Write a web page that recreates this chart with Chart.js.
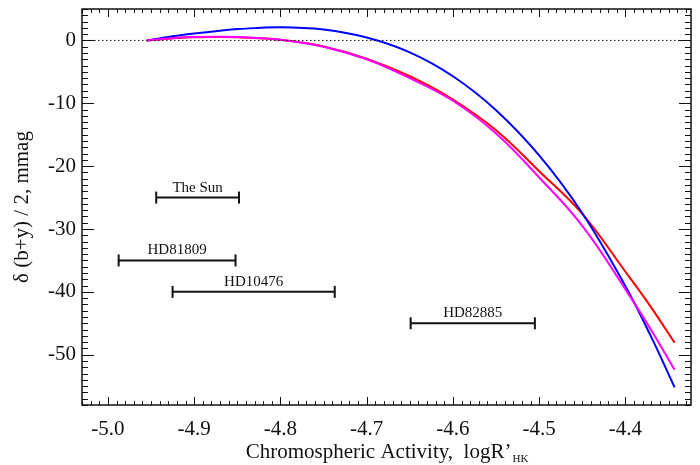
<!DOCTYPE html>
<html>
<head>
<meta charset="utf-8">
<script src="https://cdn.jsdelivr.net/npm/chart.js@4.4.1/dist/chart.umd.min.js"></script>
<style>
  html, body { margin: 0; padding: 0; background: #fff; }
</style>
</head>
<body>
<canvas id="chart" width="700" height="465"></canvas>
<script>
// model curves, sampled along logR'HK
const activity = [-4.955, -4.92, -4.90, -4.87, -4.85, -4.80, -4.75, -4.70, -4.65, -4.60, -4.55, -4.50, -4.45, -4.40, -4.37, -4.343]
const blueCurve = [0, 0.74, 1.1, 1.55, 1.8, 2.1, 1.73, 0.46, -1.9, -5.7, -11.1, -18.3, -27.5, -39.1, -47.2, -55.2]
const redCurve = [0, 0.38, 0.5, 0.55, 0.5, 0.1, -0.95, -2.9, -5.7, -9.4, -14.3, -20.8, -27.6, -36.8, -42.5, -48.1]
const magentaCurve = [0, 0.42, 0.55, 0.6, 0.55, 0.1, -1.0, -3.0, -6.0, -9.6, -14.8, -21.8, -29.5, -39.6, -46.1, -52.4]

// activity ranges of the stars
const starNames = ["The Sun", "HD81809", "HD10476", "HD82885"]
const starLow = [-4.944, -4.9875, -4.925, -4.649]
const starHigh = [-4.848, -4.852, -4.737, -4.505]
const starLevel = [-25, -35, -40, -45]

const xTicks = [-5.0, -4.9, -4.8, -4.7, -4.6, -4.5, -4.4]
const yTicks = [0, -10, -20, -30, -40, -50]
const xMin = -5.03, xMax = -4.324
const yMin = -58, yMax = 5

const serif = "'Liberation Serif', 'Times New Roman', serif"

const curve = (ys, color) => ({
  data: activity.map((x, i) => ({x: x, y: ys[i]})),
  borderColor: color,
  borderWidth: 2,
  showLine: true,
  pointRadius: 0,
  tension: 0.4,
})

const starSets = starNames.map((name, i) => ({
  label: name,
  data: [{x: starLow[i], y: starLevel[i]}, {x: starHigh[i], y: starLevel[i]}],
  borderColor: "#111",
  borderWidth: 2,
  showLine: true,
  pointStyle: "line",
  rotation: 90,
  pointRadius: 6,
  pointBorderWidth: 2,
  pointBorderColor: "#111",
}))

const frameTicks = {
  id: "frameTicks",
  afterDatasetsDraw(chart) {
    const {ctx, chartArea: a, scales: {x, y}} = chart
    ctx.save()
    ctx.strokeStyle = "#111"
    ctx.lineWidth = 1
    ctx.beginPath()
    for (let i = Math.ceil(xMin * 100); i <= Math.floor(xMax * 100); i++) {
      const px = Math.round(x.getPixelForValue(i / 100)) + 0.5
      const len = i % 10 === 0 ? 8 : 4
      ctx.moveTo(px, a.bottom); ctx.lineTo(px, a.bottom - len)
      ctx.moveTo(px, a.top); ctx.lineTo(px, a.top + len)
    }
    for (let v = Math.ceil(yMin); v <= Math.floor(yMax); v++) {
      const py = Math.round(y.getPixelForValue(v)) + 0.5
      const len = v % 10 === 0 ? 12 : 6
      ctx.moveTo(a.left, py); ctx.lineTo(a.left + len, py)
      ctx.moveTo(a.right, py); ctx.lineTo(a.right - len, py)
    }
    ctx.stroke()
    ctx.lineWidth = 1.5
    ctx.strokeRect(a.left, a.top, a.right - a.left, a.bottom - a.top)

    // star names above their bars
    ctx.fillStyle = "#111"
    ctx.font = "15px " + serif
    ctx.textAlign = "center"
    ctx.textBaseline = "alphabetic"
    starNames.forEach((name, i) => {
      const cx = x.getPixelForValue((starLow[i] + starHigh[i]) / 2)
      ctx.fillText(name, cx, y.getPixelForValue(starLevel[i]) - 6)
    })

    // x axis title with subscript
    const main = "Chromospheric Activity,  logR\u2019"
    const sub = "HK"
    ctx.font = "21px " + serif
    const w1 = ctx.measureText(main).width
    ctx.font = "11px " + serif
    const w2 = ctx.measureText(sub).width
    const left = (a.left + a.right) / 2 - (w1 + w2) / 2
    ctx.textAlign = "left"
    ctx.font = "21px " + serif
    ctx.fillText(main, left, 458)
    ctx.font = "11px " + serif
    ctx.fillText(sub, left + w1 + 1, 462)
    ctx.restore()
  }
}

const noEdgePadding = (s) => {
  s.paddingTop = 0
  s.paddingBottom = 0
  s.paddingLeft = 0
  s.paddingRight = 0
}

new Chart(document.getElementById("chart"), {
  type: "scatter",
  data: {
    datasets: [
      {
        data: [{x: xMin, y: 0}, {x: xMax, y: 0}],
        borderColor: "#111",
        borderWidth: 1,
        borderDash: [1.5, 2.5],
        showLine: true,
        pointRadius: 0,
      },
      curve(magentaCurve, "#ff00ff"),
      curve(blueCurve, "#0000ff"),
      curve(redCurve, "#ff0000"),
      ...starSets,
    ]
  },
  options: {
    responsive: false,
    devicePixelRatio: 1,
    animation: false,
    layout: {padding: {top: 9, right: 9, left: 0, bottom: 0}},
    plugins: {legend: {display: false}, tooltip: {enabled: false}},
    scales: {
      x: {
        type: "linear",
        min: xMin,
        max: xMax,
        grid: {display: false, drawTicks: false},
        border: {display: false},
        afterBuildTicks: (s) => { s.ticks = xTicks.map(v => ({value: v})) },
        afterFit: (s) => { s.height = 60; noEdgePadding(s) },
        ticks: {
          color: "#111",
          padding: 12,
          maxRotation: 0,
          font: {family: serif, size: 21},
          callback: (v) => v.toFixed(1),
        },
      },
      y: {
        type: "linear",
        min: yMin,
        max: yMax,
        grid: {display: false, drawTicks: false},
        border: {display: false},
        afterBuildTicks: (s) => { s.ticks = yTicks.map(v => ({value: v})) },
        afterFit: (s) => { s.width = 82; noEdgePadding(s) },
        ticks: {
          color: "#111",
          padding: 6,
          font: {family: serif, size: 21},
          callback: (v) => String(v),
        },
        title: {
          display: true,
          text: "\u03b4 (b+y) / 2, mmag",
          color: "#111",
          font: {family: serif, size: 21},
          padding: {top: 10, bottom: 0},
        },
      },
    },
  },
  plugins: [frameTicks],
})
</script>
</body>
</html>
